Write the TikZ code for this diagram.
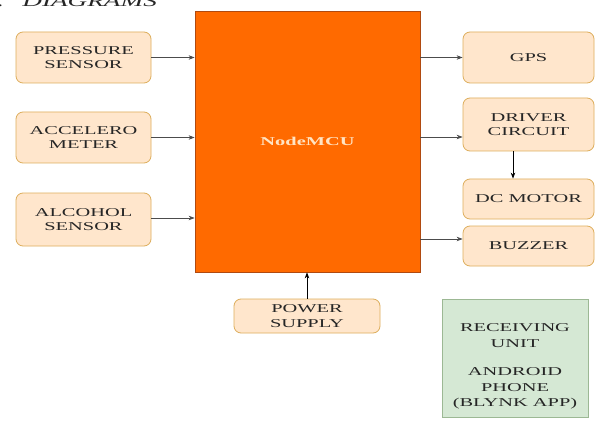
\documentclass[tikz,border=0pt]{standalone}
\usepackage{fontspec}
\setmainfont{Liberation Serif}[FakeStretch=1.7]
\usetikzlibrary{arrows.meta}
\definecolor{peachfill}{HTML}{FFE6CC}
\definecolor{peachline}{HTML}{DDAE5C}
\definecolor{mcufill}{HTML}{FF6A00}
\definecolor{mculine}{HTML}{B04A10}
\definecolor{greenfill}{HTML}{D5E8D4}
\definecolor{greenline}{HTML}{9CB894}

\begin{document}
\begin{tikzpicture}[x=1pt,y=-1pt,line width=0.8pt,>={Stealth[length=6pt,width=4.5pt]},
  blok/.style={draw=peachline,fill=peachfill,rounded corners=7pt,inner sep=0pt,align=center,
    text=black!85,font=\fontsize{12}{14.5}\selectfont},
  arr/.style={->,black!70,line width=0.7pt}]
  \useasboundingbox[fill=white] (0,0) rectangle (599,422);
  % titulo
  \node[anchor=base west,inner sep=0pt,text=black!85,font=\fontsize{16}{18}\selectfont] (ttl) at (22,7)
    {\llap{2.\hspace{19pt}}\textit{DIAGRAMS}};
  % entradas
  \node[blok,minimum width=135,minimum height=51] (press) at (83.5,57.5) {PRESSURE\\SENSOR};
  \node[blok,minimum width=135,minimum height=51] (accel) at (83.5,137.5) {ACCELERO\\METER};
  \node[blok,minimum width=135,minimum height=53] (alc) at (83.5,219.5) {ALCOHOL\\SENSOR};
  % controlador
  \node[draw=mculine,fill=mcufill,minimum width=225,minimum height=261,inner sep=0pt,
    text={rgb,255:red,255;green,228;blue,196},font=\fontsize{12}{14.5}\selectfont\bfseries] (mcu) at (307.5,141.5) {NodeMCU};
  % salidas
  \node[blok,minimum width=131,minimum height=51] (gps) at (528.5,57.5) {GPS};
  \node[blok,minimum width=131,minimum height=53] (drv) at (528.5,124.5) {DRIVER\\CIRCUIT};
  \node[blok,minimum width=131,minimum height=40] (dcm) at (528.5,199) {DC MOTOR};
  \node[blok,minimum width=131,minimum height=40] (buz) at (528.5,246) {BUZZER};
  \node[blok,minimum width=146,minimum height=34] (pwr) at (307,316) {POWER\\SUPPLY};
  % receptor
  \node[draw=greenline,fill=greenfill,minimum width=146,minimum height=118,inner sep=0pt] (rcv) at (515,358) {};
  \node[align=center,inner sep=0pt,text=black!85,font=\fontsize{12}{15.5}\selectfont] (rcvtxt) at ([yshift=-8.5pt]rcv.center)
    {RECEIVING\\UNIT\\[13pt]ANDROID\\PHONE\\(BLYNK APP)};
  % flechas
  \draw[arr] (press.east) -- (press.east -| mcu.west);
  \draw[arr] (accel.east) -- (accel.east -| mcu.west);
  \draw[arr] ([yshift=1.5pt]alc.east) -- ([yshift=1.5pt]alc.east -| mcu.west);
  \draw[arr] (mcu.east |- gps.west) -- (gps.west);
  \coordinate (drvin) at ([yshift=-12.5pt]drv.west);
  \draw[arr] (mcu.east |- drvin) -- (drvin);
  \coordinate (buzin) at ([yshift=7pt]buz.west);
  \draw[arr] (mcu.east |- buzin) -- (buzin);
  \draw[arr,black] ([xshift=-15.5pt]drv.south) -- ([xshift=-15.5pt]dcm.north);
  \draw[arr,black] (pwr.north) -- (pwr.north |- mcu.south);
\end{tikzpicture}
\end{document}
